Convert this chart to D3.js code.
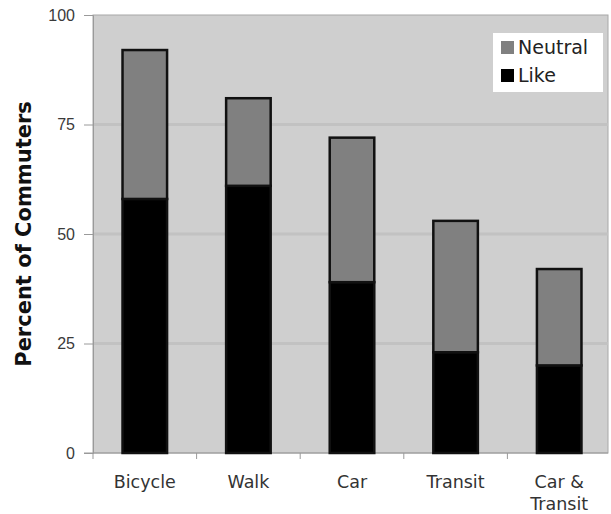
<!DOCTYPE html>
<html>
<head>
<meta charset="utf-8">
<script src="https://cdn.jsdelivr.net/npm/d3@7"></script>
<style>
  html, body { margin: 0; padding: 0; background: #fff; }
  svg { display: block; }
</style>
</head>
<body>
<script>
// Commuter attitudes by travel mode: stacked Like + Neutral shares
const categories = ["Bicycle", "Walk", "Car", "Transit", "Car & Transit"];
const likeValues = [58, 61, 39, 23, 20];
const neutralValues = [34, 20, 33, 30, 22];
const yTicks = [0, 25, 50, 75, 100];
const seriesNames = ["Neutral", "Like"];
const seriesColors = { Like: "#000000", Neutral: "#808080" };

const W = 611, H = 514;
const margin = { left: 93, top: 15, right: 0, bottom: 61 };
const innerW = W - margin.left - margin.right;
const innerH = H - margin.top - margin.bottom;

const svg = d3.select("body").append("svg")
  .attr("width", W).attr("height", H)
  .style("font-family", "'DejaVu Sans', Verdana, sans-serif");

const g = svg.append("g").attr("transform", `translate(${margin.left},${margin.top})`);

const x = d3.scaleBand().domain(categories).range([0, innerW]).paddingInner(0.57).paddingOuter(0.285);
const y = d3.scaleLinear().domain([0, 100]).range([innerH, 0]);

// plot background (right border sits just inside the page edge)
const plotW = innerW - 3;
g.append("rect").attr("x", 0).attr("y", 0).attr("width", plotW).attr("height", innerH)
  .attr("fill", "#cfcfcf").attr("stroke", "#a8a8a8").attr("stroke-width", 1);

// horizontal gridlines
g.selectAll("line.grid").data(yTicks.filter(d => d > 0 && d < 100)).join("line")
  .attr("class", "grid")
  .attr("x1", 0).attr("x2", plotW)
  .attr("y1", d => y(d)).attr("y2", d => y(d))
  .attr("stroke", "#c2c2c2").attr("stroke-width", 3);

// y axis
const yAxis = g.append("g").call(d3.axisLeft(y).tickValues(yTicks).tickSize(9).tickPadding(9));
yAxis.select(".domain").attr("stroke", "#9a9a9a");
yAxis.selectAll(".tick line").attr("stroke", "#9a9a9a");
yAxis.selectAll(".tick text").attr("fill", "#3a3a3a").style("font-size", "16px");

// x axis: ticks at category boundaries
const xAxisG = g.append("g").attr("transform", `translate(0,${innerH})`);
xAxisG.append("line").attr("x1", -9).attr("x2", plotW).attr("y1", 0).attr("y2", 0).attr("stroke", "#9a9a9a");
const step = x.step();
const boundaries = d3.range(categories.length).map(i => i * step);
xAxisG.selectAll("line.xt").data(boundaries).join("line").attr("class", "xt")
  .attr("x1", d => d).attr("x2", d => d).attr("y1", 0).attr("y2", 6).attr("stroke", "#9a9a9a");

// category labels; the last one wraps after "&"
const labelLines = c => c === "Car & Transit" ? ["Car &", "Transit"] : [c];
xAxisG.selectAll("text.cat").data(categories).join("text").attr("class", "cat")
  .attr("text-anchor", "middle").attr("fill", "#333").style("font-size", "17.5px")
  .attr("transform", d => `translate(${x(d) + x.bandwidth() / 2},35)`)
  .selectAll("tspan").data(d => labelLines(d)).join("tspan")
  .attr("x", 0).attr("dy", (d, i) => i === 0 ? 0 : 22).text(d => d);

// stacked bars
const rows = categories.map((c, i) => ({ category: c, Like: likeValues[i], Neutral: neutralValues[i] }));
const stack = d3.stack().keys(["Like", "Neutral"])(rows);
const layers = g.selectAll("g.layer").data(stack).join("g").attr("class", "layer")
  .attr("fill", d => seriesColors[d.key]);
layers.selectAll("rect").data(d => d).join("rect")
  .attr("x", d => x(d.data.category))
  .attr("width", x.bandwidth())
  .attr("y", d => y(d[1]))
  .attr("height", d => y(d[0]) - y(d[1]))
  .attr("stroke", "#111").attr("stroke-width", 2.5);

// y-axis title
svg.append("text")
  .attr("transform", `translate(31,${margin.top + innerH / 2}) rotate(-90)`)
  .attr("text-anchor", "middle").attr("fill", "#111")
  .style("font-size", "21px").style("font-weight", "bold")
  .text("Percent of Commuters");

// legend
const lg = svg.append("g").attr("transform", "translate(493,33)");
lg.append("rect").attr("width", 110).attr("height", 59).attr("fill", "#fff");
const items = lg.selectAll("g.item").data(seriesNames).join("g").attr("class", "item")
  .attr("transform", (d, i) => `translate(8,${8 + i * 28})`);
items.append("rect").attr("width", 13).attr("height", 13).attr("fill", d => seriesColors[d]);
items.append("text").attr("x", 17).attr("y", 13).attr("fill", "#222")
  .style("font-size", "19px").text(d => d);
</script>
</body>
</html>
